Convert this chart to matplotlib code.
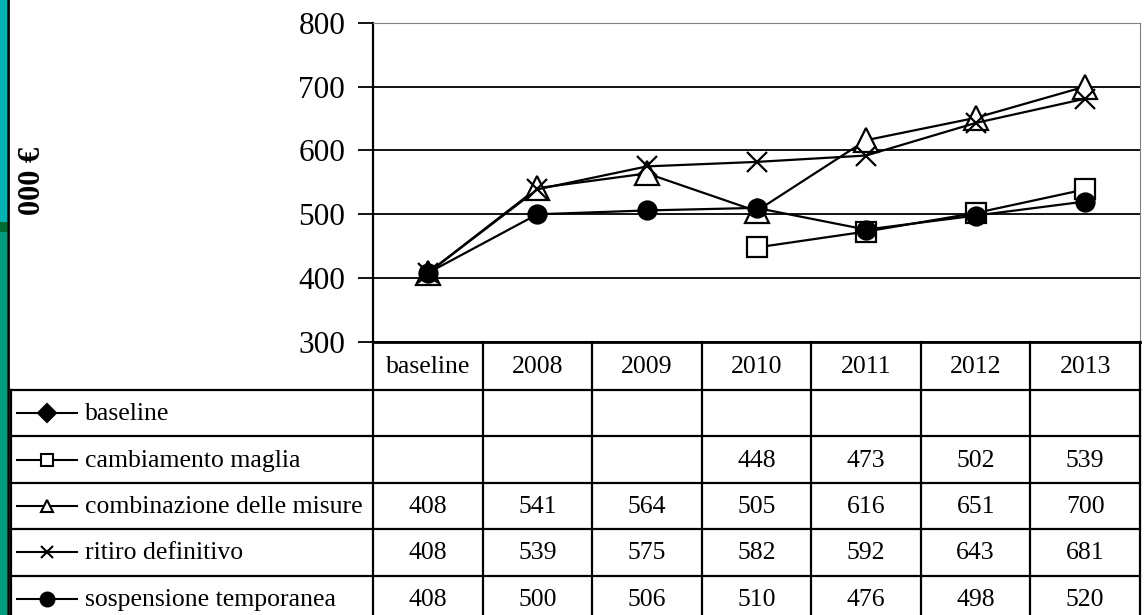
import numpy as np
import matplotlib
matplotlib.use("Agg")
import matplotlib.pyplot as plt
from matplotlib.patches import Rectangle

plt.rcParams['font.family'] = ['Liberation Serif', 'DejaVu Serif']

categories = ['baseline', '2008', '2009', '2010', '2011', '2012', '2013']
series_names = ['baseline', 'cambiamento maglia', 'combinazione delle misure',
                'ritiro definitivo', 'sospensione temporanea']
baseline = [None, None, None, None, None, None, None]
cambiamento = [None, None, None, 448, 473, 502, 539]
combinazione = [408, 541, 564, 505, 616, 651, 700]
ritiro = [408, 539, 575, 582, 592, 643, 681]
sospensione = [408, 500, 506, 510, 476, 498, 520]
all_series = [baseline, cambiamento, combinazione, ritiro, sospensione]

y_ticks = [300, 400, 500, 600, 700, 800]

# marker styles per series (marker, size, filled)
styles = [('D', 12, True), ('s', 15, False), ('^', 17, False), ('x', 14, False), ('o', 13, True)]
leg_styles = [('D', 9, True), ('s', 8, False), ('^', 9, False), ('x', 8, False), ('o', 10, True)]

W, H = 1145, 615
fig = plt.figure(figsize=(W / 100, H / 100), dpi=100)

left, right, top, bottom = 373, 1140, 22.7, 342
ax = fig.add_axes([left / W, 1 - bottom / H, (right - left) / W, (bottom - top) / H])

x = np.arange(len(categories))
for vals, (m, ms, filled) in zip(all_series, styles):
    y = np.array([np.nan if v is None else v for v in vals], dtype=float)
    ax.plot(x, y, color='black', lw=1.6, marker=m, ms=ms,
            mfc='black' if filled else 'white', mec='black', mew=1.6, zorder=3)

ax.set_xlim(-0.5, len(categories) - 0.5)
ax.set_ylim(300, 800)
ax.set_yticks(y_ticks)
ax.set_xticks([])
ax.yaxis.grid(True, color='black', lw=1.3)
ax.set_axisbelow(True)
ax.spines['top'].set_color('#808080')
ax.spines['right'].set_color('#808080')
ax.spines['left'].set_linewidth(1.6)
ax.spines['bottom'].set_linewidth(2)
ax.tick_params(axis='y', direction='out', length=11, width=1.3, labelsize=22.5, pad=9)

fig.text(33 / W, 1 - 181 / H, '000 €', rotation=90, fontsize=22, fontweight='bold',
         ha='center', va='center')

# data table drawn in pixel space below the plot
tb = fig.add_axes([0, 0, 1, 1], facecolor='none')
tb.set_xlim(0, W)
tb.set_ylim(H, 0)
tb.axis('off')

tb.add_patch(Rectangle((0, 0), 6.5, 222, color='#00b2b4', lw=0))
tb.add_patch(Rectangle((0, 222), 6.5, 10, color='#006a30', lw=0))
tb.add_patch(Rectangle((0, 232), 6.5, H - 232, color='#009a7c', lw=0))
tb.plot([7.5, 7.5], [0, H], color='black', lw=2)

col_edges = np.linspace(left, right, len(categories) + 1)
col_centers = (col_edges[:-1] + col_edges[1:]) / 2
head_bottom = 390
row_h = 46.4
row_edges = [head_bottom + i * row_h for i in range(len(series_names) + 1)]

for xe in col_edges:
    tb.plot([xe, xe], [bottom, H], color='black', lw=1.6)
tb.plot([11, 11], [head_bottom, H], color='black', lw=1.6)
for ye in row_edges[:-1]:
    tb.plot([11, right], [ye, ye], color='black', lw=1.6)

for cx, cat in zip(col_centers, categories):
    tb.text(cx, (bottom + head_bottom) / 2 + 1, cat, ha='center', va='center', fontsize=18.5)

for i, (name, vals, (m, ms, filled)) in enumerate(zip(series_names, all_series, leg_styles)):
    cy = row_edges[i] + row_h / 2
    tb.plot([17, 77], [cy, cy], color='black', lw=1.5)
    tb.plot([47], [cy], marker=m, ms=ms, mfc='black' if filled else 'white',
            mec='black', mew=1.5, color='black')
    tb.text(85, cy + 1, name, ha='left', va='center', fontsize=18.5)
    for cx, v in zip(col_centers, vals):
        if v is not None:
            tb.text(cx, cy + 1, str(v), ha='center', va='center', fontsize=18.5)

fig.savefig('out.png', dpi=100)
